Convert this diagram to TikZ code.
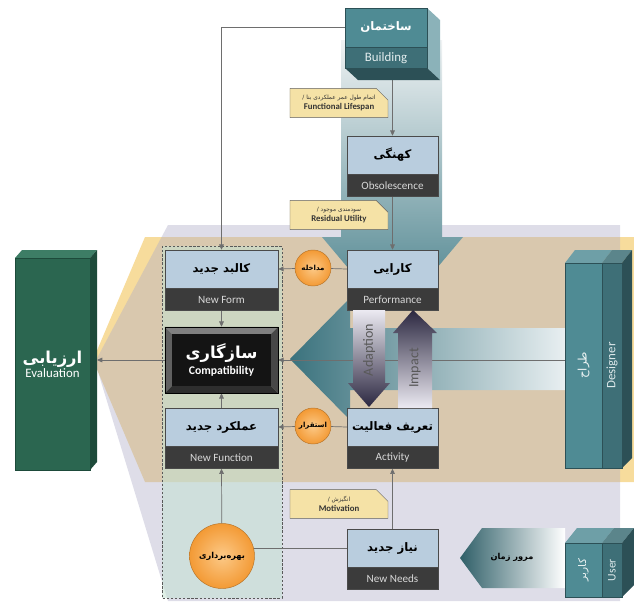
\documentclass[tikz,border=0pt]{standalone}
\usepackage{fontspec}
\setmainfont{Carlito}
\newfontfamily\persfont[Script=Arabic]{DejaVu Sans}
\TeXXeTstate=1
\usetikzlibrary{positioning,shapes.misc,arrows.meta}
\newcommand{\pers}[1]{{\persfont\beginR #1\endR}}

\definecolor{boxblue}{HTML}{B9CDDE}
\definecolor{boxdark}{HTML}{3B3B3B}
\definecolor{boxline}{HTML}{4A4A4A}
\definecolor{linkgray}{HTML}{6E6E6E}
\definecolor{notefill}{HTML}{F5E2A6}
\definecolor{ochre}{HTML}{F7DC9C}
\definecolor{lilac}{HTML}{B0AEC8}
\definecolor{sage}{HTML}{C4E2D2}
\definecolor{teal1}{HTML}{4F8B94}
\definecolor{teal2}{HTML}{3E6F77}
\definecolor{teal3}{HTML}{2C5056}
\definecolor{teal4}{HTML}{6E9FA7}
\definecolor{colpale}{HTML}{F0F3F4}
\definecolor{colmid}{HTML}{BFD2D6}
\definecolor{colteal}{HTML}{4F858F}
\definecolor{designteal}{HTML}{3A727D}
\definecolor{designpale}{HTML}{E8EFF1}
\definecolor{timeteal}{HTML}{2F5F68}
\definecolor{evgreen}{HTML}{2B6650}
\definecolor{evdark}{HTML}{1D4A3A}
\definecolor{evtop}{HTML}{3D7D65}
\definecolor{ballorange}{HTML}{F39A35}
\definecolor{ballpale}{HTML}{FCC987}
\definecolor{arrowdark}{HTML}{2B2740}
\definecolor{arrowpale}{HTML}{ECEAF2}

\pgfdeclarelayer{bg}
\pgfdeclarelayer{links}
\pgfsetlayers{bg,links,main}

\begin{document}
\begin{tikzpicture}[x=0.03cm,y=-0.03cm,
  upbox/.style={draw=boxline,fill=boxblue,minimum width=2.73cm,minimum height=1.14cm,inner sep=0pt,font=\bfseries\fontsize{10}{12}\selectfont},
  lowbox/.style={draw=boxline,fill=boxdark,minimum width=2.73cm,minimum height=0.66cm,inner sep=0pt,text=white!85!black,font=\fontsize{9.5}{11}\selectfont},
  widebox/.style={minimum width=3.39cm},
  note/.style={chamfered rectangle,chamfered rectangle corners=north east,chamfered rectangle xsep=5pt,chamfered rectangle ysep=5pt,draw=gray!75!black,fill=notefill,minimum width=2.94cm,minimum height=0.66cm,inner sep=1pt,align=center,text=black!80,font=\bfseries\fontsize{7.5}{8}\selectfont},
  ball/.style={circle,draw=ballorange!75!black,inner color=ballpale,outer color=ballorange,minimum size=1.08cm,inner sep=0pt,font=\bfseries\fontsize{6}{7}\selectfont},
  link/.style={draw=linkgray,line width=0.6pt,-{Triangle[length=4.5pt,width=4pt]}},
  linkline/.style={draw=linkgray,line width=0.6pt}]
\useasboundingbox (0,0) rectangle (634,609);

\begin{pgfonlayer}{bg}
\fill[ochre] (145,237) -- (634,237) -- (634,482) -- (145,482) -- (93,360) -- cycle;
\fill[lilac,fill opacity=0.42] (168,225) -- (620,225) -- (620,601) -- (168,601) -- (95,362) -- cycle;
\shade[top color=colpale,middle color=colmid,bottom color=colteal] (341,40) -- (442,40) -- (442,237) -- (463,237) -- (410,300) -- (375,300) -- (322,237) -- (341,237) -- cycle;
\shade[left color=designteal,right color=designpale] (565,328) -- (350,328) -- (350,298) -- (290,359) -- (350,420) -- (350,390) -- (565,390) -- cycle;
\shade[left color=timeteal,right color=white] (565,528) -- (482,528) -- (460,558) -- (482,588) -- (565,588) -- cycle;
\filldraw[draw=gray!70!black,dash pattern=on 2pt off 1.5pt,fill=sage,fill opacity=0.55] (162,246) rectangle (282,598);
\end{pgfonlayer}

% building
\fill[teal4!80!white] (427,8) -- (440,20) -- (440,80) -- (427,68) -- cycle;
\fill[teal3] (345,68) -- (427,68) -- (440,80) -- (358,80) -- cycle;
\node[fill=teal1,draw=teal3,minimum width=2.46cm,minimum height=1.17cm,inner sep=0pt,text=white,font=\bfseries\fontsize{10}{12}\selectfont] (bld) at (386,27.5) {\pers{ساختمان}};
\node[fill=teal2,draw=teal3,minimum width=2.46cm,minimum height=0.63cm,inner sep=0pt,text=white!85!teal1,font=\fontsize{11}{13}\selectfont,below=0pt of bld] (bldE) {Building};
\coordinate (bldfoot) at (392.5,80);

\node[note] (life) at (339,103) {{\mdseries\fontsize{5}{6}\selectfont\pers{اتمام طول عمر عملکردی بنا /}}\\Functional Lifespan};
\node[note] (resid) at (339,215) {{\mdseries\fontsize{5}{6}\selectfont\pers{سودمندی موجود /}}\\Residual Utility};
\node[note] (motiv) at (339,504) {{\mdseries\fontsize{5}{6}\selectfont\pers{انگیزش /}}\\Motivation};

\node[upbox] (obs) at (392.5,155) {\pers{کهنگی}};
\node[lowbox,below=0pt of obs] (obsE) {Obsolescence};
\node[upbox] (perf) at (392.5,269) {\pers{کارایی}};
\node[lowbox,below=0pt of perf] (perfE) {Performance};
\node[upbox] (act) at (392.5,427) {\pers{تعریف فعالیت}};
\node[lowbox,below=0pt of act] (actE) {Activity};
\node[upbox] (needs) at (392.5,548) {\pers{نیاز جدید}};
\node[lowbox,below=0pt of needs] (needsE) {New Needs};
\node[upbox,widebox] (nform) at (221.5,269) {\pers{کالبد جدید}};
\node[lowbox,widebox,below=0pt of nform] (nformE) {New Form};
\node[upbox,widebox] (nfunc) at (221.5,427) {\pers{عملکرد جدید}};
\node[lowbox,widebox,below=0pt of nfunc] (nfuncE) {New Function};

% compatibility
\node[minimum width=3.39cm,minimum height=1.98cm,inner sep=0pt] (compfrm) at (221.5,360) {};
\node[fill=black!92,minimum width=2.97cm,minimum height=1.56cm,inner sep=0pt,align=center,text=white] (comp) at (221.5,360) {{\bfseries\fontsize{14}{16}\selectfont\pers{سازگاری}}\\[1pt]{\bfseries\fontsize{10}{12}\selectfont Compatibility}};
\fill[black!50] (compfrm.north west) -- (compfrm.north east) -- (comp.north east) -- (comp.north west) -- cycle;
\fill[black!62] (compfrm.north west) -- (comp.north west) -- (comp.south west) -- (compfrm.south west) -- cycle;
\fill[black!72] (compfrm.north east) -- (comp.north east) -- (comp.south east) -- (compfrm.south east) -- cycle;
\fill[black!82] (compfrm.south west) -- (compfrm.south east) -- (comp.south east) -- (comp.south west) -- cycle;
\draw[black] (compfrm.north west) rectangle (compfrm.south east);

\node[ball] (mud) at (313,268) {\pers{مداخله}};
\node[ball] (est) at (313,426) {\pers{استقرار}};
\node[ball,minimum size=1.95cm,font=\bfseries\fontsize{7}{8}\selectfont] (use) at (222,556) {\pers{بهره‌برداری}};

% adaption / impact
\shade[top color=arrowpale,bottom color=arrowdark] (353,310) -- (385,310) -- (385,383) -- (390,383) -- (369,407) -- (348,383) -- (353,383) -- cycle;
\node[rotate=90,text=black!65,font=\fontsize{12}{14}\selectfont] (adtxt) at (369,350) {Adaption};
\shade[top color=arrowdark,bottom color=arrowpale] (413,310) -- (437,333) -- (432,333) -- (432,408) -- (398,408) -- (398,333) -- (393,333) -- cycle;
\node[rotate=90,text=black!65,font=\fontsize{12}{14}\selectfont] (imtxt) at (415,368) {Impact};

% evaluation
\fill[evtop] (15,258) -- (22,250) -- (97,250) -- (90,258) -- cycle;
\fill[evdark] (90,258) -- (97,250) -- (97,462) -- (90,470) -- cycle;
\node[fill=evgreen,draw=evdark,minimum width=2.25cm,minimum height=6.36cm,inner sep=0pt,align=center,text=white] (eval) at (52.5,364) {{\bfseries\fontsize{14}{16}\selectfont\pers{ارزیابی}}\\{\fontsize{11}{13}\selectfont Evaluation}};
\coordinate (evtip) at (97,360);

% designer
\fill[teal4] (565,263) -- (575,250) -- (612,250) -- (602,263) -- cycle;
\fill[teal2!85!white] (602,263) -- (612,250) -- (632,250) -- (622,263) -- cycle;
\fill[teal3] (622,263) -- (632,250) -- (632,458) -- (622,468) -- cycle;
\node[fill=teal1,draw=teal3,minimum width=1.11cm,minimum height=6.15cm,inner sep=0pt,text=white!90!teal1,font=\fontsize{10}{12}\selectfont] (dsgF) at (583.5,365.5) {\rotatebox{90}{\pers{طراح}}};
\node[fill=teal2,draw=teal3,minimum width=0.6cm,minimum height=6.15cm,inner sep=0pt,text=white!80!teal1,font=\fontsize{11}{13}\selectfont] (dsg) at (612,365.5) {\rotatebox{90}{Designer}};

% user
\fill[teal4] (565,543) -- (577,528) -- (614,528) -- (602,543) -- cycle;
\fill[teal2!85!white] (602,543) -- (614,528) -- (634,528) -- (622,543) -- cycle;
\fill[teal3] (622,543) -- (634,528) -- (634,585) -- (622,597) -- cycle;
\node[fill=teal1,draw=teal3,minimum width=1.11cm,minimum height=1.62cm,inner sep=0pt,text=white!90!teal1,font=\fontsize{9}{11}\selectfont] (usrF) at (583.5,570) {\rotatebox{90}{\pers{کاربر}}};
\node[fill=teal2,draw=teal3,minimum width=0.6cm,minimum height=1.62cm,inner sep=0pt,text=white!80!teal1,font=\fontsize{10}{12}\selectfont] (usr) at (612,570) {\rotatebox{90}{User}};
\node[font=\bfseries\fontsize{7}{8}\selectfont] (time) at (512,557) {\pers{مرور زمان}};

\begin{pgfonlayer}{links}
\draw[link] (bld.west) -| (nform.north);
\draw[link] (bldfoot) -- (obs.north);
\draw[link] (obsE.south) -- (perf.north);
\draw[linkline] (perf.west) -- (mud);
\draw[link] (mud) -- (nform.east);
\draw[linkline] (act.west) -- (est);
\draw[link] (est) -- (nfunc.east);
\draw[link] (nformE.south) -- (compfrm.north);
\draw[link] (nfunc.north) -- (compfrm.south);
\draw[link] (use) -- (nfuncE.south);
\draw[linkline] (needs.west) -- (needs.west -| use);
\draw[link] (needs.north) -- (actE.south);
\draw[link] (dsgF.west |- compfrm.east) -- (compfrm.east);
\draw[link] (compfrm.west) -- (evtip);
\end{pgfonlayer}
\end{tikzpicture}
\end{document}
